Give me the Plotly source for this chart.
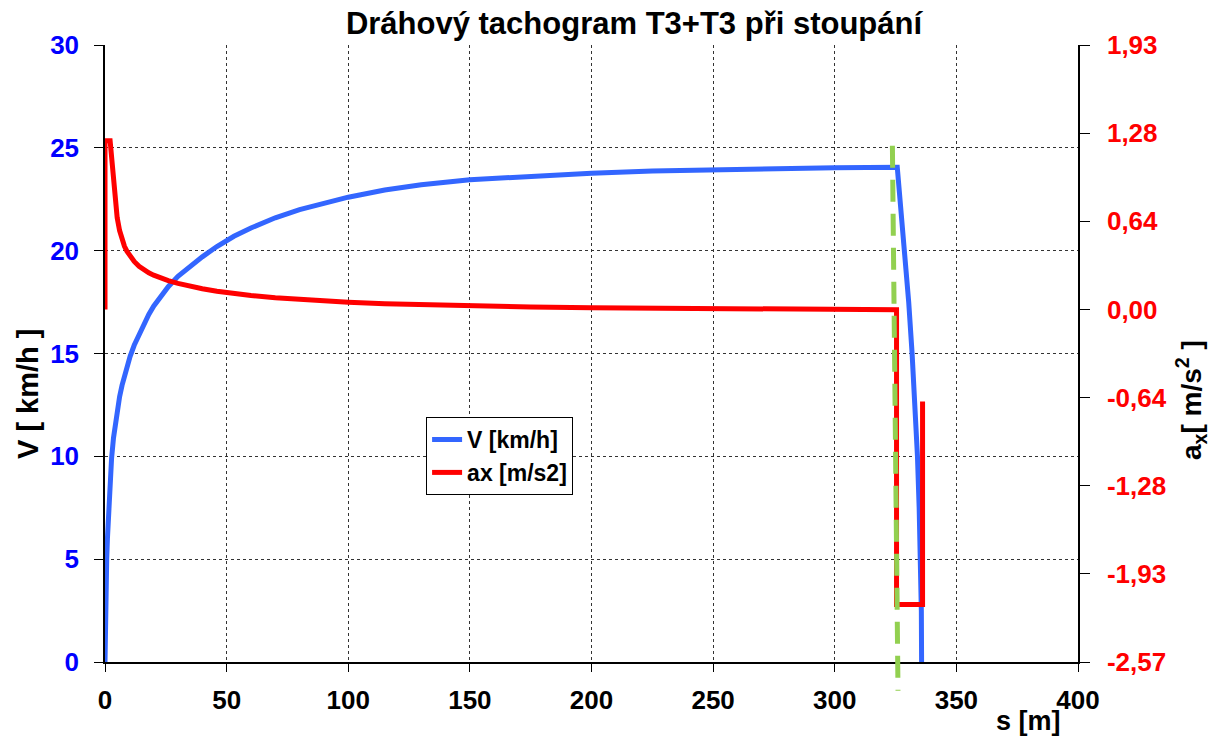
import plotly.graph_objects as go

# ---- data ----
S_V = [0, 0.05, 0.2, 0.4, 0.7, 1.0, 1.5, 2.0, 2.7, 3.5, 4.0, 5.0, 6.0, 7.0, 8.0, 9.0, 10.3,
       12.0, 14.0, 16.0, 18.0, 20.0, 23.0, 26.0, 30.0, 35.0, 40.0, 46.0, 53.0, 60.0,
       70.0, 80.0, 90.0, 100.0, 115.0, 130.0, 150.0, 175.0, 200.0, 225.0, 250.0, 275.0,
       300.0, 325.7,
       327.3, 328.8, 330.4, 331.8, 333.0, 334.0, 334.7, 335.3, 335.6, 335.7]
V_KMH = [0, 1.2, 2.5, 3.6, 5.0, 6.0, 7.3, 8.5, 9.9, 10.9, 11.4, 12.2, 12.9, 13.45, 13.9, 14.3, 14.85,
         15.4, 15.95, 16.45, 16.9, 17.3, 17.75, 18.25, 18.75, 19.25, 19.7, 20.2, 20.7, 21.1,
         21.6, 22.0, 22.3, 22.6, 22.95, 23.2, 23.45, 23.63, 23.77, 23.87, 23.94, 23.99,
         24.03, 24.06,
         22.0, 20.0, 17.5, 15.0, 12.5, 10.0, 7.5, 5.0, 2.5, 0]

S_A = [0, 0, 2.1, 2.5, 3.0, 3.5, 4.0, 5.0, 6.0, 7.0, 8.0, 9.0, 10.0, 12.0, 14.0, 16.0, 18.0,
       20.0, 23.0, 26.0, 30.0, 35.0, 40.0, 46.0, 53.0, 60.0, 70.0, 80.0, 90.0, 100.0,
       115.0, 130.0, 150.0, 175.0, 200.0, 225.0, 250.0, 275.0, 300.0,
       325.4, 325.4, 336.1, 336.1]
AX = [0, 1.23, 1.23, 1.16, 1.03, 0.91, 0.81, 0.67, 0.575, 0.51, 0.46, 0.425, 0.395, 0.35, 0.315, 0.288, 0.267,
      0.25, 0.228, 0.21, 0.19, 0.168, 0.151, 0.133, 0.116, 0.101, 0.085, 0.072, 0.061, 0.052,
      0.041, 0.033, 0.025, 0.018, 0.012, 0.008, 0.005, 0.003, 0.001,
      -0.002, -2.152, -2.152, -0.672]

# green guide line (s at top / bottom, V at top / bottom)
GUIDE_S = [323.7, 326.0]
GUIDE_V = [25.1, -1.4]

X_TICKS = [0, 50, 100, 150, 200, 250, 300, 350, 400]
V_TICKS = [0, 5, 10, 15, 20, 25, 30]
A_TICK_TEXT = ["-2,57", "-1,93", "-1,28", "-0,64", "0,00", "0,64", "1,28", "1,93"]
A_MIN, A_MAX = -2.5714, 1.9286
V_MAX = 30

FONT = "Liberation Sans, Arial, sans-serif"
BLUE = "#3366FF"
RED = "#FF0000"

a_step = (A_MAX - A_MIN) / (len(A_TICK_TEXT) - 1)
a_tickvals = [A_MIN + i * a_step for i in range(len(A_TICK_TEXT))]

fig = go.Figure()
fig.add_trace(go.Scatter(x=S_V, y=V_KMH, mode="lines", name="V [km/h]",
                         line=dict(color=BLUE, width=5), yaxis="y"))
fig.add_trace(go.Scatter(x=S_A, y=AX, mode="lines", name="ax [m/s2]",
                         line=dict(color=RED, width=5), yaxis="y2"))

fig.add_shape(type="line", xref="x", yref="paper",
              x0=GUIDE_S[0], x1=GUIDE_S[1],
              y0=GUIDE_V[0] / V_MAX, y1=GUIDE_V[1] / V_MAX,
              line=dict(color="#92D050", width=5, dash="22px,12px"))

grid = dict(showgrid=True, gridcolor="#333333", gridwidth=1, griddash="dot")

fig.update_layout(
    width=1210, height=744,
    margin=dict(l=105, r=132, t=45, b=82),
    paper_bgcolor="white", plot_bgcolor="white",
    font=dict(family=FONT, color="black"),
    title=dict(text="Dráhový tachogram T3+T3 při stoupání",
               font=dict(size=31, color="black", family=FONT, weight="bold"),
               x=634 / 1210, xref="container", xanchor="center",
               y=1 - 23 / 744, yref="container", yanchor="middle"),
    xaxis=dict(range=[0, 400], tickvals=X_TICKS, **grid,
               showline=True, linecolor="black", linewidth=1.5,
               ticks="outside", ticklen=8, tickcolor="black",
               tickfont=dict(size=26, color="black", family=FONT, weight="bold"),
               ticklabelstandoff=6, zeroline=False),
    yaxis=dict(range=[0, V_MAX], tickvals=V_TICKS, **grid,
               showline=True, linecolor="black", linewidth=1.5,
               ticks="outside", ticklen=9, tickcolor="black",
               tickfont=dict(size=26, color="#0000FF", family=FONT, weight="bold"),
               ticklabelstandoff=10, zeroline=False),
    yaxis2=dict(range=[A_MIN, A_MAX], tickvals=a_tickvals, ticktext=A_TICK_TEXT,
                overlaying="y", side="right", showgrid=False, zeroline=False,
                showline=True, linecolor="black", linewidth=1.5,
                ticks="outside", ticklen=10, tickcolor="black",
                tickfont=dict(size=26, color=RED, family=FONT, weight="bold"),
                ticklabelstandoff=12),
    legend=dict(x=0.330, y=0.397, xanchor="left", yanchor="top",
                bgcolor="white", bordercolor="black", borderwidth=1,
                font=dict(size=23, color="black", family=FONT, weight="bold"),
                tracegroupgap=0),
    showlegend=True,
)

fig.add_annotation(text="<b>V [ km/h ]</b>", xref="paper", yref="paper",
                   x=(28 - 105) / 973, y=(662 - 394) / 617, textangle=-90,
                   showarrow=False, xanchor="center", yanchor="middle",
                   font=dict(size=29, color="black", family=FONT))
fig.add_annotation(text="<b>a<sub>x</sub>[ m/s<sup>2</sup> ]</b>", xref="paper", yref="paper",
                   x=(1191 - 105) / 973, y=(662 - 400) / 617, textangle=-90,
                   showarrow=False, xanchor="center", yanchor="middle",
                   font=dict(size=28, color="black", family=FONT))
fig.add_annotation(text="<b>s [m]</b>", xref="paper", yref="paper",
                   x=(1028 - 105) / 973, y=(662 - 721) / 617,
                   showarrow=False, xanchor="center", yanchor="middle",
                   font=dict(size=27, color="black", family=FONT))

fig.write_html("out.html")
